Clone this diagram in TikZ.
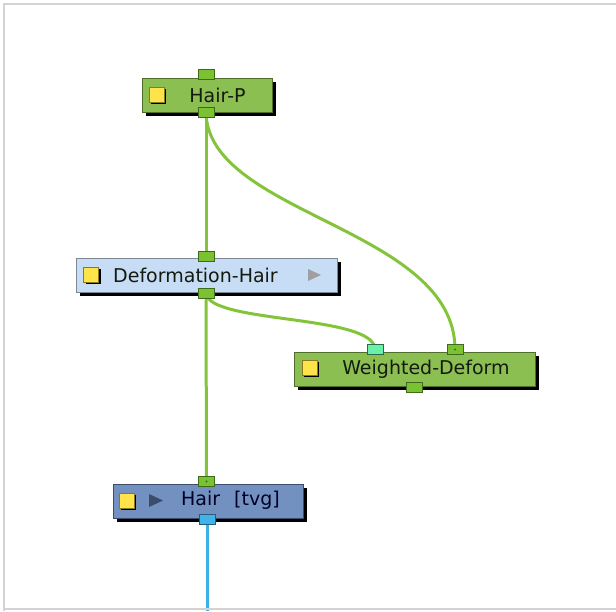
\documentclass[tikz,border=0pt]{standalone}
\usepackage{fontspec}
\setmainfont{DejaVu Sans}
\usetikzlibrary{shadows,calc}
\pgfdeclarelayer{bg}
\pgfsetlayers{bg,main}
\definecolor{gbox}{HTML}{8CBF52}
\definecolor{gboxline}{HTML}{4F6E2C}
\definecolor{gline}{HTML}{84C43A}
\definecolor{gport}{HTML}{7AC231}
\definecolor{gportline}{HTML}{3F6A1A}
\definecolor{cport}{HTML}{6AF0A8}
\definecolor{cportline}{HTML}{2A6A4A}
\definecolor{lbbox}{HTML}{C6DDF5}
\definecolor{lbline}{HTML}{7E8894}
\definecolor{dbbox}{HTML}{7391C0}
\definecolor{dbline}{HTML}{3C4C6A}
\definecolor{bport}{HTML}{40B4E8}
\definecolor{bportline}{HTML}{2A5A7A}
\definecolor{bline}{HTML}{3CB2E2}
\definecolor{ylw}{HTML}{FFE34A}
\definecolor{ylwline}{HTML}{8C7A1E}
\definecolor{frame}{HTML}{D3D3D3}
\definecolor{txt}{HTML}{151A10}
\tikzset{
  nodebox/.style={rectangle, draw, line width=1pt, minimum height=34pt, inner sep=0pt,
    drop shadow={shadow xshift=4pt, shadow yshift=-4pt, opacity=1, fill=black}},
  greenbox/.style={nodebox, fill=gbox, draw=gboxline},
  lightbox/.style={nodebox, fill=lbbox, draw=lbline},
  darkbox/.style={nodebox, fill=dbbox, draw=dbline},
  port/.style={rectangle, draw=gportline, fill=gport, line width=1pt, minimum width=16pt, minimum height=10pt, inner sep=0pt},
  cyanport/.style={port, fill=cport, draw=cportline},
  blueport/.style={port, fill=bport, draw=bportline},
  icon/.style={rectangle, fill=ylw, draw=ylwline, line width=0.8pt, minimum size=15pt, inner sep=0pt,
    drop shadow={shadow xshift=2pt, shadow yshift=-2pt, opacity=1, fill=black}},
  label/.style={font=\fontsize{19}{21}\selectfont, text=txt, inner sep=0pt},
  wire/.style={draw=gline, line width=3pt},
  bwire/.style={draw=bline, line width=3pt},
}
\begin{document}
\begin{tikzpicture}[x=1pt,y=-1pt]
\path[use as bounding box] (0,0) rectangle (616,611);
\draw[frame, line width=2pt] (616,4) -- (4,4) -- (4,611);
\draw[frame, line width=2pt] (4,609) -- (616,609);

% boxes
\node[greenbox, minimum width=130pt] (hp) at (207,95) {};
\node[lightbox, minimum width=261pt] (dh) at (206.5,275) {};
\node[greenbox, minimum width=241pt] (wd) at (414.5,369) {};
\node[darkbox, minimum width=190pt] (hr) at (208,501) {};

% icons
\node[icon] (hpi) at (156.5,94.5) {};
\node[icon] (dhi) at (91,274.5) {};
\node[icon] (wdi) at (309.5,367.5) {};
\node[icon] (hri) at (126.5,500.5) {};

% labels
\node[label] (hpt) at (217.5,95) {Hair-P};
\node[label] (dht) at (195.5,275) {Deformation-Hair};
\node[label] (wdt) at (426,369) {Weighted-Deform};
\node[label, text=black!85!blue] (hrt) at (230.5,500.5) {Hair\hspace{14pt}[tvg]};

% play triangles
\fill[gray!75] (308,269) -- (321,275) -- (308,281) -- cycle;
\fill[dbline] (149,494) -- (163,500.5) -- (149,507) -- cycle;

% ports
\node[port] (hpin) at (206,74) {};
\node[port] (hpout) at (206,112.5) {};
\node[port] (dhin) at (206,256) {};
\node[port] (dhout) at (206,293) {};
\node[cyanport] (wdin1) at (375,349.5) {};
\node[port] (wdin2) at (455,349.5) {};
\node[port] (wdout) at (414.5,387.5) {};
\node[port] (hrin) at (206.5,481.5) {};
\node[blueport] (hrout) at (207,519) {};
\coordinate (bend) at (207,611);

\fill[gportline] (wdin2.center) circle (1.2pt);
\fill[gportline] (hrin.center) circle (1.2pt);

% wires
\begin{pgfonlayer}{bg}
\draw[wire] (hpout.center) -- (dhin.center);
\draw[wire] (hpout.center) .. controls (208,215) and (455,228) .. (wdin2.center);
\draw[wire] (dhout.center) -- (hrin.center);
\draw[wire] (dhout.center) .. controls (208,324) and (375,314) .. (wdin1.center);
\draw[bwire] (hrout.center) -- (bend);
\end{pgfonlayer}
\end{tikzpicture}
\end{document}
